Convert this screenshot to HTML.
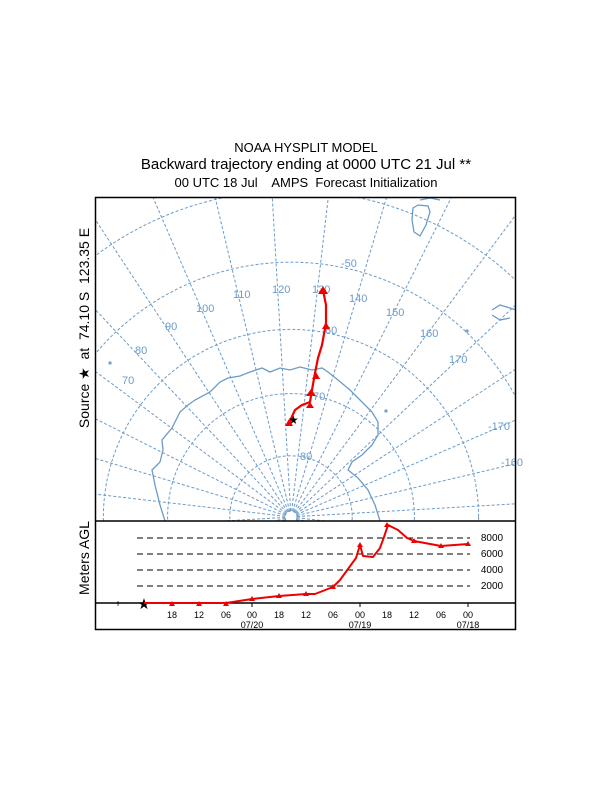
<!DOCTYPE html>
<html style="margin:0;overflow:hidden;width:612px;height:792px"><head><meta charset="utf-8"><style>
html,body{margin:0;padding:0;background:#fff;width:612px;height:792px;overflow:hidden}
#w{position:absolute;left:0;top:0;width:612px;height:792px;overflow:hidden}
svg{display:block;overflow:hidden}
text{font-family:"Liberation Sans",sans-serif;white-space:pre}
</style></head><body><div id="w">
<svg id="s" width="612" height="792" viewBox="0 0 612 792" xmlns="http://www.w3.org/2000/svg">
<text x="306" y="152" font-size="13" text-anchor="middle">NOAA HYSPLIT MODEL</text>
<text x="306" y="169" font-size="15" text-anchor="middle">Backward trajectory ending at 0000 UTC 21 Jul **</text>
<text x="306" y="187" font-size="13" text-anchor="middle" xml:space="preserve">00 UTC 18 Jul    AMPS  Forecast Initialization</text>
<text transform="translate(89,328) rotate(-90)" font-size="14" text-anchor="middle" xml:space="preserve">Source ★  at  74.10 S  123.35 E</text>
<text transform="translate(89,558) rotate(-90)" font-size="14" text-anchor="middle">Meters AGL</text>
<defs><clipPath id="c"><rect x="95" y="197" width="421" height="324"/></clipPath></defs>
<g id="map" clip-path="url(#c)" fill="none" stroke="#6b9bc8" stroke-width="1" stroke-dasharray="3,2"></g>
<g clip-path="url(#c)" fill="none" stroke="#6b9bc8" stroke-width="1.3">
<path d="M165,521 L160,505 155,485 152,470 160,462 163,450 162,440 172,428 180,412 188,405 195,400 210,392 220,382 228,378 240,376 250,372 262,368 270,372 280,368 290,370 300,367 312,370 322,368 328,372 338,380 350,390 358,398 365,405 372,412 378,422 378,435 372,445 362,455 352,462 348,470 358,478 368,490 375,505 380,521"/>
<path d="M413,208 L418,205 428,206 430,212 426,225 420,236 414,232 412,220 Z"/>
<path d="M492,310 L500,305 510,308 516,310 M492,315 L500,320 510,318"/>
<path d="M420,200 L430,198 440,200"/>
<circle cx="110" cy="363" r="1"/><circle cx="386" cy="411" r="1"/><circle cx="467" cy="331" r="1"/>
</g>
<g fill="#6b9bc8" font-size="11">
<text x="341" y="267">-50</text><text x="325" y="334">60</text><text x="313" y="400">70</text><text x="300" y="460">80</text>
<text x="122" y="384">70</text><text x="135" y="354">80</text><text x="165" y="330">90</text><text x="196" y="312">100</text>
<text x="233" y="298">110</text><text x="272" y="293">120</text><text x="312" y="293">130</text><text x="349" y="302">140</text>
<text x="386" y="316">150</text><text x="420" y="337">160</text><text x="449" y="363">170</text><text x="488" y="430">-170</text><text x="501" y="466">-160</text>
</g>
<g fill="none" stroke="#e00" stroke-width="2.2" stroke-linejoin="round">
<path d="M323,290 L326,305 326,323 322,345 318,358 315,373 312,390 310,402 302,405 295,410 289,423"/>
</g>
<g fill="#e00">
<polygon points="323,286 318,294 328,294"/><polygon points="326,322 322,329 330,329"/><polygon points="316,372 312,379 320,379"/><polygon points="311,389 306,396 316,396"/><polygon points="310,402 306,408 314,408"/><polygon points="289,419 285,426 293,426"/>
</g>
<text x="288" y="424" font-size="12">★</text>
<rect x="95.5" y="197.5" width="420" height="432" fill="none" stroke="#000" stroke-width="1.5"/>
<line x1="95" y1="521" x2="516" y2="521" stroke="#000" stroke-width="1.5"/>
<line x1="95" y1="603" x2="516" y2="603" stroke="#000" stroke-width="1.5"/>
<g stroke="#000" stroke-dasharray="6,4"><line x1="137" y1="538" x2="470" y2="538"/><line x1="137" y1="554" x2="470" y2="554"/><line x1="137" y1="570" x2="470" y2="570"/><line x1="137" y1="586" x2="470" y2="586"/></g>
<g font-size="10" text-anchor="middle"><text x="492" y="541">8000</text><text x="492" y="557">6000</text><text x="492" y="573">4000</text><text x="492" y="589">2000</text></g>
<g font-size="9" text-anchor="middle">
<text x="172" y="618">18</text><text x="199" y="618">12</text><text x="226" y="618">06</text><text x="252" y="618">00</text><text x="279" y="618">18</text><text x="306" y="618">12</text><text x="333" y="618">06</text><text x="360" y="618">00</text><text x="387" y="618">18</text><text x="414" y="618">12</text><text x="441" y="618">06</text><text x="468" y="618">00</text>
<text x="252" y="628">07/20</text><text x="360" y="628">07/19</text><text x="468" y="628">07/18</text></g>
<g stroke="#000"><line x1="252" y1="603" x2="252" y2="607"/><line x1="360" y1="603" x2="360" y2="607"/><line x1="468" y1="603" x2="468" y2="607"/></g>
<text x="118" y="607" font-size="10" text-anchor="middle">+</text>
<text x="144" y="609" font-size="15" text-anchor="middle">★</text>
<path d="M144,603 L172,603 199,603 226,603 252,599 279,596 306,594 315,594 333,587 340,580 348,569 356,558 360,545 363,556 373,557 380,548 384,537 388,525 398,530 407,538 414,541 441,546 468,544" fill="none" stroke="#e00" stroke-width="2" stroke-linejoin="round"/>
<g fill="#e00"><polygon points="172,601 169,606 175,606"/><polygon points="199,601 196,606 202,606"/><polygon points="226,601 223,606 229,606"/><polygon points="252,596 249,601 255,601"/><polygon points="279,593 276,598 282,598"/><polygon points="306,591 303,596 309,596"/><polygon points="333,584 330,589 336,589"/><polygon points="360,542 357,547 363,547"/><polygon points="387,522 384,527 390,527"/><polygon points="414,538 411,543 417,543"/><polygon points="441,543 438,548 444,548"/><polygon points="468,541 465,546 471,546"/></g>
</svg>
<script>
var g=document.getElementById('map'),cx=291,cy=517,k=700,h='';
for(var lat=80;lat>=20;lat-=10){var r=k*Math.tan((90-lat)/2*Math.PI/180);h+='<circle cx="'+cx+'" cy="'+cy+'" r="'+r.toFixed(1)+'"/>';}
h+='<circle cx="'+cx+'" cy="'+cy+'" r="6"/>';
for(var lon=0;lon<360;lon+=10){var a=(lon-123.35)*Math.PI/180;var x0=cx+6*Math.sin(a),y0=cy-6*Math.cos(a),x1=cx+700*Math.sin(a),y1=cy-700*Math.cos(a);h+='<line x1="'+x0.toFixed(1)+'" y1="'+y0.toFixed(1)+'" x2="'+x1.toFixed(1)+'" y2="'+y1.toFixed(1)+'"/>';}
g.innerHTML=h;
</script>
</div></body></html>
